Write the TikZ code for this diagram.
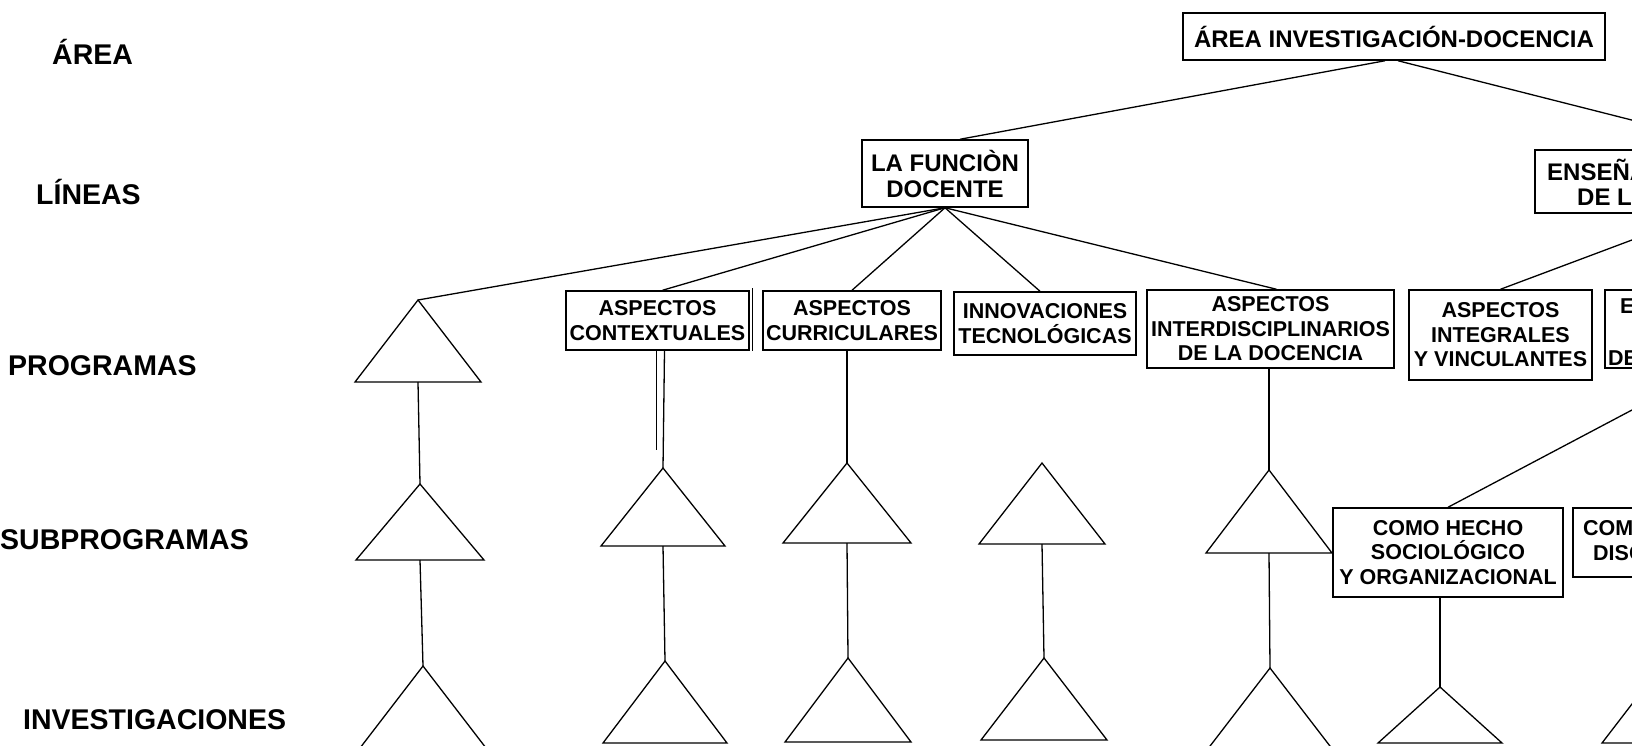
\documentclass[tikz,border=0pt]{standalone}
\usepackage{fontspec}
\setmainfont{Liberation Sans}
\newcommand\lvlfont{\fontsize{28.5pt}{30pt}\selectfont\bfseries}
\newcommand\bigboxfont{\fontsize{24pt}{26pt}\selectfont\bfseries}
\newcommand\boxfont{\fontsize{21.5pt}{24.5pt}\selectfont\bfseries}
% triangle: name, apex x, apex y, height, half width
\newcommand\drawtri[5]{%
  \coordinate (#1-top) at (#2,#3);
  \coordinate (#1-bot) at (#2,#3+#4);
  \draw[conn] (#1-top) -- (#2-#5,#3+#4) -- (#2+#5,#3+#4) -- cycle;}
\begin{document}
\begin{tikzpicture}[x=1pt,y=-1pt,
  conn/.style={line width=1.3pt, line join=miter},
  box/.style={draw, line width=1.5pt, inner sep=0pt, align=center},
  lvl/.style={inner sep=0pt, anchor=base west, font=\lvlfont},
  bigbox/.style={box, font=\bigboxfont},
  smallbox/.style={box, font=\boxfont},
  cuttext/.style={inner sep=0pt, anchor=base west},
]
\useasboundingbox (0,0) rectangle (1632,745);
\fill[white] (0,0) rectangle (1632,745);
\clip (0,0) rectangle (1632,745);

% level captions
\node[lvl] (lArea) at (52,64) {ÁREA};
\node[lvl] (lLin) at (36,204) {LÍNEAS};
\node[lvl] (lProg) at (8,375) {PROGRAMAS};
\node[lvl] (lSub) at (0,549) {SUBPROGRAMAS};
\node[lvl] (lInv) at (23,729) {INVESTIGACIONES};

% area and lines
\node[bigbox, minimum width=422pt, minimum height=47pt] (top) at (1394,36.5) {ÁREA INVESTIGACIÓN-DOCENCIA};
\node[bigbox, minimum width=166pt, minimum height=67pt] (func) at (945,173.5) {LA FUNCIÒN\\DOCENTE};
\node[box, minimum width=334pt, minimum height=63pt] (ens) at (1702,181.5) {};
\node[cuttext, font=\bigboxfont] (ens1) at (1547,180) {ENSEÑA};
\node[cuttext, font=\bigboxfont] (ens2) at (1577,205) {DE LA};

% programs
\node[smallbox, minimum width=183pt, minimum height=59pt] (ctx) at (657.5,320.5) {ASPECTOS\\CONTEXTUALES};
\node[smallbox, minimum width=178pt, minimum height=59pt] (cur) at (852,320.5) {ASPECTOS\\CURRICULARES};
\node[smallbox, minimum width=182pt, minimum height=63pt] (inn) at (1045,323.5) {INNOVACIONES\\TECNOLÓGICAS};
\node[smallbox, minimum width=247pt, minimum height=78pt] (int) at (1270.5,329) {ASPECTOS\\INTERDISCIPLINARIOS\\DE LA DOCENCIA};
\node[smallbox, minimum width=183pt, minimum height=90pt] (itg) at (1500.5,335) {ASPECTOS\\INTEGRALES\\Y VINCULANTES};
\node[box, minimum width=210pt, minimum height=78pt] (p3) at (1710,329) {};
\node[cuttext, font=\boxfont] (p3a) at (1620,313) {E};
\node[cuttext, font=\boxfont] (p3b) at (1608,365) {DE};

% subprograms
\node[smallbox, minimum width=230pt, minimum height=89pt] (como) at (1448,552.5) {COMO HECHO\\SOCIOLÓGICO\\Y ORGANIZACIONAL};
\node[box, minimum width=184pt, minimum height=69pt] (com2) at (1665,542.5) {};
\node[cuttext, font=\boxfont] (com2a) at (1583,535) {COM};
\node[cuttext, font=\boxfont] (com2b) at (1593,560) {DISC};

% triangles
\drawtri{P1}{418}{300}{82}{63}
\drawtri{S1}{420}{484}{76}{64}
\drawtri{S2}{663}{468}{78}{62}
\drawtri{S3}{847}{463}{80}{64}
\drawtri{S4}{1042}{463}{81}{63}
\drawtri{S5}{1269}{470}{83}{63}
\drawtri{I1}{423}{666}{82}{63}
\drawtri{I2}{665}{661}{82}{62}
\drawtri{I3}{848}{658}{84}{63}
\drawtri{I4}{1044}{658}{82}{63}
\drawtri{I5}{1270}{668}{82}{63}
\drawtri{I6}{1440}{687}{56}{62}
\drawtri{I7}{1665}{661}{82}{63}

% doubled right edge of the contextual box
\draw[conn] ([xshift=3pt,yshift=2pt]ctx.north east) -- ([xshift=3pt]ctx.south east);

% connectors
\draw[conn] ([xshift=-9pt]top.south) -- ([xshift=15pt]func.north);
\draw[conn] ([xshift=4pt]top.south) -- ([xshift=45pt]ens.north);
\draw[conn] (func.south) -- (P1-top);
\draw[conn] (func.south) -- ([xshift=5pt]ctx.north);
\draw[conn] (func.south) -- (cur.north);
\draw[conn] (func.south) -- ([xshift=-5pt]inn.north);
\draw[conn] (func.south) -- ([xshift=6pt]int.north);
\draw[conn] (ens.south) -- (itg.north);
\draw[conn] (p3.south) -- (como.north);

\coordinate (ctxstub) at (656.5,450);
\draw[conn] ([xshift=-1pt]ctx.south) -- (ctxstub);
\draw[conn] ([xshift=7pt]ctx.south) -- (S2-top);
\draw[conn] ([xshift=-5pt]cur.south) -- (S3-top);
\draw[conn] ([xshift=-1.5pt]int.south) -- (S5-top);
\draw[conn] (P1-bot) -- (S1-top);

\draw[conn] (S1-bot) -- (I1-top);
\draw[conn] (S2-bot) -- (I2-top);
\draw[conn] (S3-bot) -- (I3-top);
\draw[conn] (S4-bot) -- (I4-top);
\draw[conn] (S5-bot) -- (I5-top);
\draw[conn] ([xshift=-8pt]como.south) -- (I6-top);
\draw[conn] (com2.south) -- (I7-top);
\end{tikzpicture}
\end{document}
